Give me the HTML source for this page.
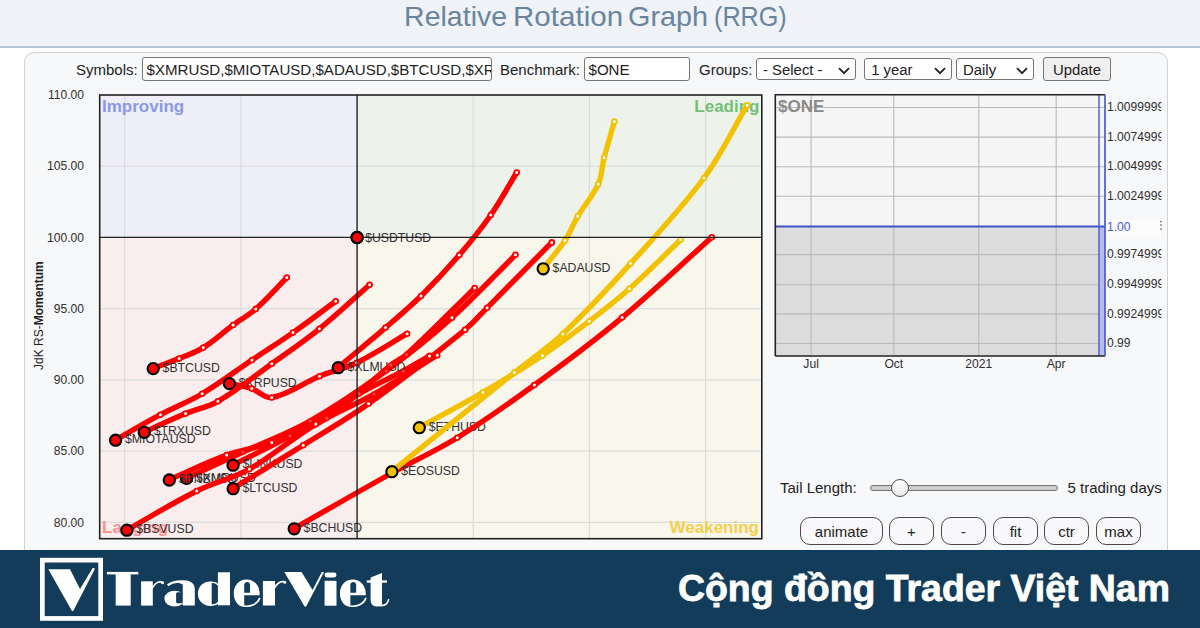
<!DOCTYPE html>
<html><head><meta charset="utf-8">
<style>
html,body{margin:0;padding:0;}
body{width:1200px;height:628px;overflow:hidden;background:#fff;position:relative;font-family:"Liberation Sans",sans-serif;}
#hdr{position:absolute;left:0;top:0;width:1200px;height:46px;background:#eff2f6;border-bottom:2px solid #b9c8d7;box-sizing:content-box;}
.tw{position:absolute;top:-3.4px;font-size:28.5px;color:#6b849e;white-space:nowrap;line-height:38px;transform-origin:0 0;}
#panel{position:absolute;left:24px;top:52px;width:1142px;height:520px;background:#f7f8fa;border:1px solid #d2d2d2;border-radius:10px;}
.t{position:absolute;font-size:15px;color:#222;white-space:nowrap;line-height:18px;}
.inp{position:absolute;box-sizing:border-box;border:1px solid #767676;border-radius:3px;background:#fff;font-size:15.08px;line-height:23px;color:#222;white-space:nowrap;overflow:hidden;padding-left:3.5px;}
.sel svg{position:absolute;right:5px;top:7.5px;}
.btn{position:absolute;box-sizing:border-box;border:1.2px solid #4a4a4a;border-radius:10px;background:#f9f9fb;font-size:15px;color:#222;text-align:center;line-height:27.2px;height:27.5px;top:517px;overflow:hidden;}
#chart{position:absolute;left:0;top:0;}
.lb{font-size:12.25px;fill:#303030;font-family:"Liberation Sans",sans-serif;}
.ax{font-size:12.1px;fill:#2e2e2e;font-family:"Liberation Sans",sans-serif;}
.q{font-size:17px;font-weight:bold;font-family:"Liberation Sans",sans-serif;}
#ftr{position:absolute;left:0;top:550px;width:1200px;height:78px;background:#123c5a;}
#logotxt{position:absolute;left:107px;top:559px;font-family:"Liberation Serif",serif;font-weight:bold;font-size:51px;color:#fff;line-height:60px;white-space:nowrap;transform-origin:0 0;transform:scaleX(1.14);-webkit-text-stroke:1.6px #fff;letter-spacing:0.5px;}
#slogan{position:absolute;left:677.5px;top:568.6px;font-weight:bold;font-size:37px;color:#fff;line-height:40px;white-space:nowrap;transform-origin:0 0;transform:scaleX(1.011);-webkit-text-stroke:0.8px #fff;}
</style></head><body>
<div id="hdr"></div>
<div class="tw" style="left:404.1px;transform:scaleX(1.0);">Relative</div>
<div class="tw" style="left:512.7px;transform:scaleX(1.037);">Rotation</div>
<div class="tw" style="left:627.7px;transform:scaleX(1.01);">Graph</div>
<div class="tw" style="left:713.8px;transform:scaleX(0.883);">(RRG)</div>
<div id="panel"></div>

<div class="t" style="left:76px;top:61px;">Symbols:</div>
<div class="inp" style="left:142px;top:57px;width:350px;height:23.5px;">$XMRUSD,$MIOTAUSD,$ADAUSD,$BTCUSD,$XRPUSD</div>
<div class="t" style="left:500px;top:61px;">Benchmark:</div>
<div class="inp" style="left:584px;top:57px;width:106px;height:23.5px;">$ONE</div>
<div class="t" style="left:699px;top:61px;">Groups:</div>
<div class="inp sel" style="left:756px;top:58px;width:100px;height:21.5px;line-height:22.3px;padding-left:6px;font-size:14.9px;">- Select -<svg width="12" height="8" viewBox="0 0 12 8"><path d="M1,1.2 L6,6.2 L11,1.2" fill="none" stroke="#222" stroke-width="1.9"/></svg></div>
<div class="inp sel" style="left:864px;top:58px;width:87.5px;height:21.5px;line-height:22.3px;padding-left:6.2px;font-size:14.9px;">1 year<svg width="12" height="8" viewBox="0 0 12 8"><path d="M1,1.2 L6,6.2 L11,1.2" fill="none" stroke="#222" stroke-width="1.9"/></svg></div>
<div class="inp sel" style="left:956px;top:58px;width:78px;height:21.5px;line-height:22.3px;padding-left:6px;font-size:14.9px;">Daily<svg width="12" height="8" viewBox="0 0 12 8"><path d="M1,1.2 L6,6.2 L11,1.2" fill="none" stroke="#222" stroke-width="1.9"/></svg></div>
<div class="inp" style="left:1043px;top:57px;width:68px;height:23.5px;background:#efefef;text-align:center;padding-left:0;font-size:14.9px;line-height:24px;">Update</div>

<svg id="chart" width="1200" height="628" viewBox="0 0 1200 628">
<defs><clipPath id="cp"><rect x="99.7" y="95" width="662.1" height="443.7"/></clipPath>
<clipPath id="cr"><rect x="1100" y="90" width="61.4" height="270"/></clipPath></defs>
<!-- quadrants -->
<rect x="99.7" y="95" width="257.4" height="142.4" fill="#eeeef8"/>
<rect x="357.1" y="95" width="404.7" height="142.4" fill="#edf2ea"/>
<rect x="99.7" y="237.4" width="257.4" height="301.3" fill="#f9eded"/>
<rect x="357.1" y="237.4" width="404.7" height="301.3" fill="#f9f6ec"/>
<line x1="124.7" y1="95.0" x2="124.7" y2="538.7" stroke="#dcdcdc" stroke-width="1.2"/>
<line x1="240.9" y1="95.0" x2="240.9" y2="538.7" stroke="#dcdcdc" stroke-width="1.2"/>
<line x1="473.2" y1="95.0" x2="473.2" y2="538.7" stroke="#dcdcdc" stroke-width="1.2"/>
<line x1="589.4" y1="95.0" x2="589.4" y2="538.7" stroke="#dcdcdc" stroke-width="1.2"/>
<line x1="705.6" y1="95.0" x2="705.6" y2="538.7" stroke="#dcdcdc" stroke-width="1.2"/>
<line x1="99.7" y1="166.1" x2="761.8" y2="166.1" stroke="#dcdcdc" stroke-width="1.2"/>
<line x1="99.7" y1="308.7" x2="761.8" y2="308.7" stroke="#dcdcdc" stroke-width="1.2"/>
<line x1="99.7" y1="379.9" x2="761.8" y2="379.9" stroke="#dcdcdc" stroke-width="1.2"/>
<line x1="99.7" y1="451.2" x2="761.8" y2="451.2" stroke="#dcdcdc" stroke-width="1.2"/>
<line x1="99.7" y1="522.4" x2="761.8" y2="522.4" stroke="#dcdcdc" stroke-width="1.2"/>
<text x="102" y="112" class="q" fill="#8b98e6">Improving</text>
<text x="759.5" y="112" class="q" fill="#74bf78" text-anchor="end">Leading</text>
<text x="102" y="533" class="q" fill="#ff8f8f">Lagging</text>
<text x="759" y="533" class="q" fill="#f6cf4a" text-anchor="end">Weakening</text>
<g clip-path="url(#cp)">
<path d="M186.6,478.1 C205.8,469.2 223.8,460.9 243.0,452.0 C265.8,441.5 288.2,433.4 310.0,421.0 C336.9,405.8 361.0,389.2 386.0,371.0 C409.3,354.0 430.5,337.0 452.0,317.7 C474.6,297.4 493.9,276.2 515.5,254.8" fill="none" stroke="#ff0000" stroke-width="5.4" stroke-linecap="round" stroke-linejoin="round"/>
<circle cx="186.6" cy="478.4" r="5.6" fill="#ff0000" stroke="#000" stroke-width="2.1"/>
<text x="196.0" y="481.5" class="lb">$XMRUSD</text>
<path d="M115.6,439.9 C130.8,431.3 145.0,422.9 160.4,414.7 C174.4,407.2 188.5,401.9 202.2,393.7 C219.8,383.2 235.0,371.4 252.0,360.0 C265.9,350.6 279.3,342.2 293.0,332.6 C307.7,322.3 321.2,311.9 335.7,301.3" fill="none" stroke="#ff0000" stroke-width="5.4" stroke-linecap="round" stroke-linejoin="round"/>
<circle cx="115.6" cy="440.2" r="5.6" fill="#ff0000" stroke="#000" stroke-width="2.1"/>
<text x="125.0" y="443.3" class="lb">$MIOTAUSD</text>
<path d="M543.2,268.5 C550.6,259.0 558.3,250.6 565.0,240.5 C570.1,232.7 573.1,224.3 577.8,216.3 C584.4,205.1 593.0,195.9 598.3,184.1 C602.1,175.7 601.8,166.6 604.1,157.7 C607.3,145.3 610.9,133.8 614.4,121.5" fill="none" stroke="#f2c200" stroke-width="5.4" stroke-linecap="round" stroke-linejoin="round"/>
<circle cx="543.2" cy="268.8" r="5.6" fill="#f2c200" stroke="#000" stroke-width="2.1"/>
<text x="552.6" y="271.9" class="lb">$ADAUSD</text>
<path d="M153.2,368.3 C162.0,365.0 170.4,362.2 179.1,358.6 C187.5,355.1 195.6,352.4 203.3,347.6 C214.1,340.9 222.9,332.5 233.1,325.0 C240.7,319.4 248.7,315.2 255.8,308.9 C267.0,299.0 276.3,288.2 286.8,277.6" fill="none" stroke="#ff0000" stroke-width="5.4" stroke-linecap="round" stroke-linejoin="round"/>
<circle cx="153.2" cy="368.6" r="5.6" fill="#ff0000" stroke="#000" stroke-width="2.1"/>
<text x="162.6" y="371.7" class="lb">$BTCUSD</text>
<path d="M229.4,383.3 C237.0,385.1 244.4,386.1 251.8,388.6 C258.9,391.0 264.5,398.8 271.8,397.5 C289.3,394.3 303.1,382.9 319.5,376.2 C332.0,371.1 344.7,368.6 356.8,362.7 C374.6,354.1 390.0,343.6 407.1,333.7" fill="none" stroke="#ff0000" stroke-width="5.4" stroke-linecap="round" stroke-linejoin="round"/>
<circle cx="229.4" cy="383.6" r="5.6" fill="#ff0000" stroke="#000" stroke-width="2.1"/>
<text x="238.8" y="386.7" class="lb">$XRPUSD</text>
<path d="M419.3,427.4 C440.9,415.5 461.6,404.8 482.9,392.3 C503.5,380.3 522.7,368.6 542.5,355.4 C558.9,344.4 573.7,333.2 589.4,321.2 C603.3,310.6 616.3,300.4 629.4,288.8 C647.4,272.7 663.3,256.5 680.7,239.8" fill="none" stroke="#f2c200" stroke-width="5.4" stroke-linecap="round" stroke-linejoin="round"/>
<circle cx="419.3" cy="427.7" r="5.6" fill="#f2c200" stroke="#000" stroke-width="2.1"/>
<text x="428.7" y="430.8" class="lb">$ETHUSD</text>
<path d="M233.1,464.9 C252.4,455.1 271.1,446.7 290.0,436.0 C314.0,422.5 335.3,407.5 359.2,393.8 C373.8,385.4 388.4,379.0 403.2,371.0 C412.3,366.1 420.6,361.0 429.5,355.9" fill="none" stroke="#ff0000" stroke-width="5.4" stroke-linecap="round" stroke-linejoin="round"/>
<circle cx="233.1" cy="465.2" r="5.6" fill="#ff0000" stroke="#000" stroke-width="2.1"/>
<text x="242.5" y="468.3" class="lb">$LINKUSD</text>
<path d="M338.2,367.4 C354.3,353.9 369.7,341.3 385.6,327.6 C397.8,317.1 409.5,307.3 421.0,296.0 C434.6,282.6 446.8,269.5 459.3,255.0 C470.6,241.9 480.9,229.2 490.8,215.0 C500.5,201.1 507.9,186.9 516.7,172.5" fill="none" stroke="#ff0000" stroke-width="5.4" stroke-linecap="round" stroke-linejoin="round"/>
<circle cx="338.2" cy="367.7" r="5.6" fill="#ff0000" stroke="#000" stroke-width="2.1"/>
<text x="347.6" y="370.8" class="lb">$XLMUSD</text>
<path d="M169.3,479.7 C188.8,471.3 206.7,462.3 226.7,455.1 C241.7,449.7 256.9,448.0 271.8,442.5 C290.9,435.5 309.6,429.4 326.7,418.3 C350.5,402.8 368.7,382.7 390.8,365.0 C395.8,361.0 401.7,358.9 406.4,354.6 C430.3,332.7 451.5,310.7 474.7,288.1" fill="none" stroke="#ff0000" stroke-width="5.4" stroke-linecap="round" stroke-linejoin="round"/>
<circle cx="169.3" cy="480.0" r="5.6" fill="#ff0000" stroke="#000" stroke-width="2.1"/>
<text x="178.7" y="483.1" class="lb">$BNBUSD</text>
<path d="M294.2,528.5 C327.4,509.6 358.5,491.6 391.9,473.0 C413.9,460.7 435.7,451.0 457.2,437.7 C484.2,421.0 508.7,403.7 534.4,385.0 C564.8,362.9 593.2,341.7 622.1,317.6 C653.6,291.4 681.3,264.5 711.8,237.2" fill="none" stroke="#ff0000" stroke-width="5.4" stroke-linecap="round" stroke-linejoin="round"/>
<circle cx="294.2" cy="528.8" r="5.6" fill="#ff0000" stroke="#000" stroke-width="2.1"/>
<text x="303.6" y="531.9" class="lb">$BCHUSD</text>
<path d="M391.9,471.4 C433.5,437.8 472.7,406.1 514.4,372.6 C530.8,359.4 547.4,348.3 562.8,333.9 C587.0,311.2 608.2,288.2 630.5,263.6 C656.3,235.2 681.2,208.9 704.0,178.0 C721.1,154.8 732.5,130.0 747.2,105.2" fill="none" stroke="#f2c200" stroke-width="5.4" stroke-linecap="round" stroke-linejoin="round"/>
<circle cx="391.9" cy="471.7" r="5.6" fill="#f2c200" stroke="#000" stroke-width="2.1"/>
<text x="401.3" y="474.8" class="lb">$EOSUSD</text>
<path d="M144.3,432.0 C158.3,425.7 171.4,419.5 185.6,413.6 C196.4,409.1 207.7,407.2 217.9,401.3 C237.2,390.1 253.6,376.7 271.8,363.7 C288.1,352.0 303.8,341.4 319.4,328.8 C337.1,314.5 352.5,299.7 369.6,284.7" fill="none" stroke="#ff0000" stroke-width="5.4" stroke-linecap="round" stroke-linejoin="round"/>
<circle cx="144.3" cy="432.3" r="5.6" fill="#ff0000" stroke="#000" stroke-width="2.1"/>
<text x="153.7" y="435.4" class="lb">$TRXUSD</text>
<path d="M126.9,529.9 C150.6,516.7 172.4,503.1 196.7,491.0 C214.1,482.4 232.5,478.6 249.4,469.1 C273.2,455.7 292.4,438.2 315.8,424.1 C334.9,412.6 354.6,405.1 374.0,394.1 C396.0,381.7 415.8,368.5 437.3,355.3" fill="none" stroke="#ff0000" stroke-width="5.4" stroke-linecap="round" stroke-linejoin="round"/>
<circle cx="126.9" cy="530.2" r="5.6" fill="#ff0000" stroke="#000" stroke-width="2.1"/>
<text x="136.3" y="533.3" class="lb">$BSVUSD</text>
<path d="M233.1,488.4 C256.9,473.7 279.5,460.0 303.2,445.2 C325.5,431.2 347.1,419.0 368.5,403.7 C402.1,379.7 432.9,355.8 465.0,329.8 C473.2,323.1 479.6,315.3 487.1,307.8 C509.1,285.6 529.8,264.6 551.8,242.4" fill="none" stroke="#ff0000" stroke-width="5.4" stroke-linecap="round" stroke-linejoin="round"/>
<circle cx="233.1" cy="488.7" r="5.6" fill="#ff0000" stroke="#000" stroke-width="2.1"/>
<text x="242.5" y="491.8" class="lb">$LTCUSD</text>
<circle cx="357.1" cy="237.5" r="5.6" fill="#ff0000" stroke="#000" stroke-width="2.1"/>
<text x="365.2" y="241.8" class="lb">$USDTUSD</text>
<circle cx="243.0" cy="452.0" r="2.4" fill="#fff" stroke="#ff0000" stroke-width="1.8" opacity="0.28"/>
<circle cx="310.0" cy="421.0" r="2.4" fill="#fff" stroke="#ff0000" stroke-width="1.8" opacity="0.28"/>
<circle cx="386.0" cy="371.0" r="2.4" fill="#fff" stroke="#ff0000" stroke-width="1.8" opacity="0.28"/>
<circle cx="452.0" cy="317.7" r="2.4" fill="#fff" stroke="#ff0000" stroke-width="1.8"/>
<circle cx="515.5" cy="254.8" r="2.4" fill="#fff" stroke="#ff0000" stroke-width="1.8"/>
<circle cx="160.4" cy="414.7" r="2.4" fill="#fff" stroke="#ff0000" stroke-width="1.8"/>
<circle cx="202.2" cy="393.7" r="2.4" fill="#fff" stroke="#ff0000" stroke-width="1.8"/>
<circle cx="252.0" cy="360.0" r="2.4" fill="#fff" stroke="#ff0000" stroke-width="1.8"/>
<circle cx="293.0" cy="332.6" r="2.4" fill="#fff" stroke="#ff0000" stroke-width="1.8"/>
<circle cx="335.7" cy="301.3" r="2.4" fill="#fff" stroke="#ff0000" stroke-width="1.8"/>
<circle cx="565.0" cy="240.5" r="2.4" fill="#fff" stroke="#f2c200" stroke-width="1.8"/>
<circle cx="577.8" cy="216.3" r="2.4" fill="#fff" stroke="#f2c200" stroke-width="1.8"/>
<circle cx="598.3" cy="184.1" r="2.4" fill="#fff" stroke="#f2c200" stroke-width="1.8"/>
<circle cx="604.1" cy="157.7" r="2.4" fill="#fff" stroke="#f2c200" stroke-width="1.8"/>
<circle cx="614.4" cy="121.5" r="2.4" fill="#fff" stroke="#f2c200" stroke-width="1.8"/>
<circle cx="179.1" cy="358.6" r="2.4" fill="#fff" stroke="#ff0000" stroke-width="1.8"/>
<circle cx="203.3" cy="347.6" r="2.4" fill="#fff" stroke="#ff0000" stroke-width="1.8"/>
<circle cx="233.1" cy="325.0" r="2.4" fill="#fff" stroke="#ff0000" stroke-width="1.8"/>
<circle cx="255.8" cy="308.9" r="2.4" fill="#fff" stroke="#ff0000" stroke-width="1.8"/>
<circle cx="286.8" cy="277.6" r="2.4" fill="#fff" stroke="#ff0000" stroke-width="1.8"/>
<circle cx="251.8" cy="388.6" r="2.4" fill="#fff" stroke="#ff0000" stroke-width="1.8"/>
<circle cx="271.8" cy="397.5" r="2.4" fill="#fff" stroke="#ff0000" stroke-width="1.8"/>
<circle cx="319.5" cy="376.2" r="2.4" fill="#fff" stroke="#ff0000" stroke-width="1.8"/>
<circle cx="356.8" cy="362.7" r="2.4" fill="#fff" stroke="#ff0000" stroke-width="1.8"/>
<circle cx="407.1" cy="333.7" r="2.4" fill="#fff" stroke="#ff0000" stroke-width="1.8"/>
<circle cx="482.9" cy="392.3" r="2.4" fill="#fff" stroke="#f2c200" stroke-width="1.8"/>
<circle cx="542.5" cy="355.4" r="2.4" fill="#fff" stroke="#f2c200" stroke-width="1.8"/>
<circle cx="589.4" cy="321.2" r="2.4" fill="#fff" stroke="#f2c200" stroke-width="1.8"/>
<circle cx="629.4" cy="288.8" r="2.4" fill="#fff" stroke="#f2c200" stroke-width="1.8"/>
<circle cx="680.7" cy="239.8" r="2.4" fill="#fff" stroke="#f2c200" stroke-width="1.8"/>
<circle cx="290.0" cy="436.0" r="2.4" fill="#fff" stroke="#ff0000" stroke-width="1.8" opacity="0.28"/>
<circle cx="359.2" cy="393.8" r="2.4" fill="#fff" stroke="#ff0000" stroke-width="1.8" opacity="0.28"/>
<circle cx="403.2" cy="371.0" r="2.4" fill="#fff" stroke="#ff0000" stroke-width="1.8" opacity="0.28"/>
<circle cx="429.5" cy="355.9" r="2.4" fill="#fff" stroke="#ff0000" stroke-width="1.8"/>
<circle cx="385.6" cy="327.6" r="2.4" fill="#fff" stroke="#ff0000" stroke-width="1.8"/>
<circle cx="421.0" cy="296.0" r="2.4" fill="#fff" stroke="#ff0000" stroke-width="1.8"/>
<circle cx="459.3" cy="255.0" r="2.4" fill="#fff" stroke="#ff0000" stroke-width="1.8"/>
<circle cx="490.8" cy="215.0" r="2.4" fill="#fff" stroke="#ff0000" stroke-width="1.8"/>
<circle cx="516.7" cy="172.5" r="2.4" fill="#fff" stroke="#ff0000" stroke-width="1.8"/>
<circle cx="226.7" cy="455.1" r="2.4" fill="#fff" stroke="#ff0000" stroke-width="1.8"/>
<circle cx="271.8" cy="442.5" r="2.4" fill="#fff" stroke="#ff0000" stroke-width="1.8"/>
<circle cx="326.7" cy="418.3" r="2.4" fill="#fff" stroke="#ff0000" stroke-width="1.8" opacity="0.28"/>
<circle cx="390.8" cy="365.0" r="2.4" fill="#fff" stroke="#ff0000" stroke-width="1.8" opacity="0.28"/>
<circle cx="406.4" cy="354.6" r="2.4" fill="#fff" stroke="#ff0000" stroke-width="1.8" opacity="0.28"/>
<circle cx="474.7" cy="288.1" r="2.4" fill="#fff" stroke="#ff0000" stroke-width="1.8"/>
<circle cx="457.2" cy="437.7" r="2.4" fill="#fff" stroke="#ff0000" stroke-width="1.8"/>
<circle cx="534.4" cy="385.0" r="2.4" fill="#fff" stroke="#ff0000" stroke-width="1.8"/>
<circle cx="622.1" cy="317.6" r="2.4" fill="#fff" stroke="#ff0000" stroke-width="1.8"/>
<circle cx="711.8" cy="237.2" r="2.4" fill="#fff" stroke="#ff0000" stroke-width="1.8"/>
<circle cx="514.4" cy="372.6" r="2.4" fill="#fff" stroke="#f2c200" stroke-width="1.8"/>
<circle cx="562.8" cy="333.9" r="2.4" fill="#fff" stroke="#f2c200" stroke-width="1.8"/>
<circle cx="630.5" cy="263.6" r="2.4" fill="#fff" stroke="#f2c200" stroke-width="1.8"/>
<circle cx="704.0" cy="178.0" r="2.4" fill="#fff" stroke="#f2c200" stroke-width="1.8"/>
<circle cx="747.2" cy="105.2" r="2.4" fill="#fff" stroke="#f2c200" stroke-width="1.8"/>
<circle cx="185.6" cy="413.6" r="2.4" fill="#fff" stroke="#ff0000" stroke-width="1.8"/>
<circle cx="217.9" cy="401.3" r="2.4" fill="#fff" stroke="#ff0000" stroke-width="1.8"/>
<circle cx="271.8" cy="363.7" r="2.4" fill="#fff" stroke="#ff0000" stroke-width="1.8"/>
<circle cx="319.4" cy="328.8" r="2.4" fill="#fff" stroke="#ff0000" stroke-width="1.8"/>
<circle cx="369.6" cy="284.7" r="2.4" fill="#fff" stroke="#ff0000" stroke-width="1.8"/>
<circle cx="196.7" cy="491.0" r="2.4" fill="#fff" stroke="#ff0000" stroke-width="1.8"/>
<circle cx="249.4" cy="469.1" r="2.4" fill="#fff" stroke="#ff0000" stroke-width="1.8"/>
<circle cx="315.8" cy="424.1" r="2.4" fill="#fff" stroke="#ff0000" stroke-width="1.8"/>
<circle cx="374.0" cy="394.1" r="2.4" fill="#fff" stroke="#ff0000" stroke-width="1.8" opacity="0.28"/>
<circle cx="437.3" cy="355.3" r="2.4" fill="#fff" stroke="#ff0000" stroke-width="1.8"/>
<circle cx="303.2" cy="445.2" r="2.4" fill="#fff" stroke="#ff0000" stroke-width="1.8"/>
<circle cx="368.5" cy="403.7" r="2.4" fill="#fff" stroke="#ff0000" stroke-width="1.8"/>
<circle cx="465.0" cy="329.8" r="2.4" fill="#fff" stroke="#ff0000" stroke-width="1.8"/>
<circle cx="487.1" cy="307.8" r="2.4" fill="#fff" stroke="#ff0000" stroke-width="1.8"/>
<circle cx="551.8" cy="242.4" r="2.4" fill="#fff" stroke="#ff0000" stroke-width="1.8"/>
</g>
<line x1="357.1" y1="95" x2="357.1" y2="538.7" stroke="#222" stroke-width="1.4"/>
<line x1="99.7" y1="237.4" x2="761.8" y2="237.4" stroke="#222" stroke-width="1.4"/>
<circle cx="357.1" cy="237.5" r="5.6" fill="#ff0000" stroke="#000" stroke-width="2.1"/>
<rect x="99.7" y="95" width="662.1" height="443.7" fill="none" stroke="#222" stroke-width="1.6"/>
<text x="84" y="98.8" class="ax" text-anchor="end">110.00</text>
<text x="84" y="170.3" class="ax" text-anchor="end">105.00</text>
<text x="84" y="241.6" class="ax" text-anchor="end">100.00</text>
<text x="84" y="312.9" class="ax" text-anchor="end">95.00</text>
<text x="84" y="384.1" class="ax" text-anchor="end">90.00</text>
<text x="84" y="455.4" class="ax" text-anchor="end">85.00</text>
<text x="84" y="526.6" class="ax" text-anchor="end">80.00</text>
<text transform="translate(43.3,315.6) rotate(-90)" text-anchor="middle" style="font-size:12px;fill:#222;font-family:'Liberation Sans',sans-serif;">JdK RS-<tspan font-weight="bold">Momentum</tspan></text>

<!-- benchmark -->
<rect x="775.3" y="94.8" width="329.7" height="131.6" fill="#f5f5f5"/>
<rect x="775.3" y="226.4" width="329.7" height="129.6" fill="#dcdcdc"/>
<line x1="775.3" y1="107.5" x2="1105.0" y2="107.5" stroke="#b9b9b9" stroke-width="1.1"/>
<line x1="775.3" y1="137.1" x2="1105.0" y2="137.1" stroke="#b9b9b9" stroke-width="1.1"/>
<line x1="775.3" y1="166.7" x2="1105.0" y2="166.7" stroke="#b9b9b9" stroke-width="1.1"/>
<line x1="775.3" y1="196.3" x2="1105.0" y2="196.3" stroke="#b9b9b9" stroke-width="1.1"/>
<line x1="775.3" y1="254.6" x2="1105.0" y2="254.6" stroke="#b9b9b9" stroke-width="1.1"/>
<line x1="775.3" y1="284.7" x2="1105.0" y2="284.7" stroke="#b9b9b9" stroke-width="1.1"/>
<line x1="775.3" y1="313.9" x2="1105.0" y2="313.9" stroke="#b9b9b9" stroke-width="1.1"/>
<line x1="775.3" y1="343.5" x2="1105.0" y2="343.5" stroke="#b9b9b9" stroke-width="1.1"/>
<line x1="811.1" y1="94.8" x2="811.1" y2="356.0" stroke="#b9b9b9" stroke-width="1.1"/>
<line x1="893.8" y1="94.8" x2="893.8" y2="356.0" stroke="#b9b9b9" stroke-width="1.1"/>
<line x1="978.8" y1="94.8" x2="978.8" y2="356.0" stroke="#b9b9b9" stroke-width="1.1"/>
<line x1="1056.2" y1="94.8" x2="1056.2" y2="356.0" stroke="#b9b9b9" stroke-width="1.1"/>
<rect x="1099" y="226.4" width="6" height="129.6" fill="#b9bde6"/>
<line x1="775.3" y1="226.4" x2="1105" y2="226.4" stroke="#4352c8" stroke-width="2"/>
<line x1="1099" y1="94.8" x2="1099" y2="356" stroke="#4a5ad8" stroke-width="1.4"/>
<path d="M775.3,356 L775.3,94.8 L1105,94.8" fill="none" stroke="#222" stroke-width="1.6"/>
<path d="M775.3,356 L1105,356" fill="none" stroke="#222" stroke-width="1.6"/>
<line x1="1105" y1="94.8" x2="1105" y2="356" stroke="#4a5ad8" stroke-width="1.7"/>
<text x="778" y="112" style="font-size:17px;font-weight:bold;fill:#8a8a8a;font-family:'Liberation Sans',sans-serif;">$ONE</text>
<text x="811.1" y="368.2" class="ax" text-anchor="middle">Jul</text>
<text x="893.8" y="368.2" class="ax" text-anchor="middle">Oct</text>
<text x="978.8" y="368.2" class="ax" text-anchor="middle">2021</text>
<text x="1056.2" y="368.2" class="ax" text-anchor="middle">Apr</text>
<g clip-path="url(#cr)">
<text x="1107" y="111.1" class="ax">1.0099999</text>
<text x="1107" y="140.7" class="ax">1.0074999</text>
<text x="1107" y="170.3" class="ax">1.0049999</text>
<text x="1107" y="199.9" class="ax">1.0024999</text>
<text x="1107" y="258.2" class="ax">0.9974999</text>
<text x="1107" y="288.3" class="ax">0.9949999</text>
<text x="1107" y="317.5" class="ax">0.9924999</text>
<text x="1107" y="347.1" class="ax">0.99</text>
<rect x="1106" y="219.7" width="60" height="15.6" fill="#fcfcfd"/>
<text x="1107" y="230.6" class="ax" style="fill:#4a5ad8">1.00</text>
</g>
<rect x="1160.4" y="221" width="1.3" height="1.4" fill="#444"/><rect x="1160.4" y="224.4" width="1.3" height="1.4" fill="#444"/><rect x="1160.4" y="228.4" width="1.3" height="1.4" fill="#444"/>
</svg>

<div class="t" style="left:780px;top:479px;">Tail Length:</div>
<div style="position:absolute;left:870px;top:484.5px;width:188px;height:6px;box-sizing:border-box;border:1px solid #777;border-radius:3px;background:#cdcdcd;"></div>
<div style="position:absolute;left:890.5px;top:478.5px;width:18px;height:18px;box-sizing:border-box;border:1.4px solid #505050;border-radius:50%;background:linear-gradient(#ffffff,#e9e9e9);"></div>
<div class="t" style="left:1067.5px;top:479px;">5 trading days</div>

<div class="btn" style="left:800px;width:83px;">animate</div>
<div class="btn" style="left:889px;width:45px;">+</div>
<div class="btn" style="left:941px;width:45px;">-</div>
<div class="btn" style="left:993px;width:45px;">fit</div>
<div class="btn" style="left:1044px;width:45px;">ctr</div>
<div class="btn" style="left:1096px;width:45px;">max</div>

<div id="ftr"></div>
<svg style="position:absolute;left:0;top:550px" width="1200" height="78" viewBox="0 550 1200 78">
<g fill="#fff" stroke="none">
<!-- box + V -->
<rect x="42.35" y="560.15" width="58.3" height="58.3" fill="none" stroke="#fff" stroke-width="4.7"/>
<path d="M48.3,569.2 L70,569.2 L80,589 L92.8,567.8 L95,568.8 L73.2,611 L72,611 Z"/>
<!-- T -->
<rect x="106.9" y="571.9" width="31.4" height="2.5"/>
<rect x="115.7" y="572" width="15" height="33.6"/>
<!-- r -->
<rect x="141.1" y="581.3" width="11.7" height="24.3"/>
<path d="M152.3,588 C154.5,583.5 158.5,581 162.6,582.3" fill="none" stroke="#fff" stroke-width="1.7" stroke-linecap="round"/>
<circle cx="162.5" cy="582.8" r="1.5"/>
<!-- a -->
<ellipse cx="174.6" cy="598.6" rx="10.2" ry="7.9"/>
<path d="M182.75,605.5 L182.75,584.5 C180,582.3 174,582 168.3,586.2 L167,584.3 C172,580.5 178,579.6 186,580.4 C191.5,581 194.8,584 194.8,589 L194.8,605.5 Z"/>
<rect x="176.1" y="592.3" width="6.65" height="10.9" rx="1.5" fill="#123c5a"/>
<!-- d -->
<path d="M211.7,581.6 C204,581 197.9,586 197.9,593.7 C197.9,601.2 204,606.6 211.7,605.9 Z"/>
<path d="M211,582.3 Q215.5,582 218.5,585" fill="none" stroke="#fff" stroke-width="1.6"/>
<path d="M211,605.2 Q215.5,605.5 218.5,602.5" fill="none" stroke="#fff" stroke-width="1.6"/>
<rect x="217.9" y="572.3" width="12.1" height="33"/>
<!-- e -->
<g>
<path d="M259.6,595.25 L244.2,595.25 L244.2,606.8 C238,606.6 233.75,600.5 233.75,593.2 C233.75,585.5 239,579.4 246.5,579.4 C254,579.4 259.6,585.5 259.6,593.2 Z"/>
<path d="M244.2,592.75 L244.2,585 C244.2,583 245.5,582 247.1,582 C248.7,582 250,583 250,585 L250,592.75 Z" fill="#123c5a"/>
<path d="M244,606 C250.5,607 257.5,604 259.6,598.4" fill="none" stroke="#fff" stroke-width="1.6" stroke-linecap="round"/>
</g>
<!-- r -->
<rect x="262.9" y="581" width="12.1" height="24.5"/>
<path d="M274.6,587.8 C277,583.3 280.5,580.8 284.8,581.8" fill="none" stroke="#fff" stroke-width="1.7" stroke-linecap="round"/>
<circle cx="284.7" cy="582.3" r="1.5"/>
<!-- V -->
<path d="M284.3,572.1 L301.6,572.1 L312.6,590 L321.8,572.1 L324.1,572.1 L306.1,606.6 L304.6,606.6 Z"/>
<!-- i -->
<rect x="324.6" y="572.6" width="11.9" height="4.8" rx="2.4"/>
<rect x="324.6" y="580.8" width="11.9" height="24.9"/>
<!-- e2 -->
<g transform="translate(106.15,0)">
<path d="M259.6,595.25 L244.2,595.25 L244.2,606.8 C238,606.6 233.75,600.5 233.75,593.2 C233.75,585.5 239,579.4 246.5,579.4 C254,579.4 259.6,585.5 259.6,593.2 Z"/>
<path d="M244.2,592.75 L244.2,585 C244.2,583 245.5,582 247.1,582 C248.7,582 250,583 250,585 L250,592.75 Z" fill="#123c5a"/>
<path d="M244,606 C250.5,607 257.5,604 259.6,598.4" fill="none" stroke="#fff" stroke-width="1.6" stroke-linecap="round"/>
</g>
<!-- t -->
<path d="M370.6,577.4 L382,572.9 L382,606.2 L376.5,606.4 C372.5,606.4 370.6,603.5 370.6,600 Z"/>
<rect x="366.7" y="580.3" width="20.2" height="2.4"/>
<path d="M381,605.6 C385,605.5 387.8,603 388.6,599.7" fill="none" stroke="#fff" stroke-width="1.6" stroke-linecap="round"/>
</g>
</svg>
<div id="slogan">Cộng đồng Trader Việt Nam</div>
</body></html>
